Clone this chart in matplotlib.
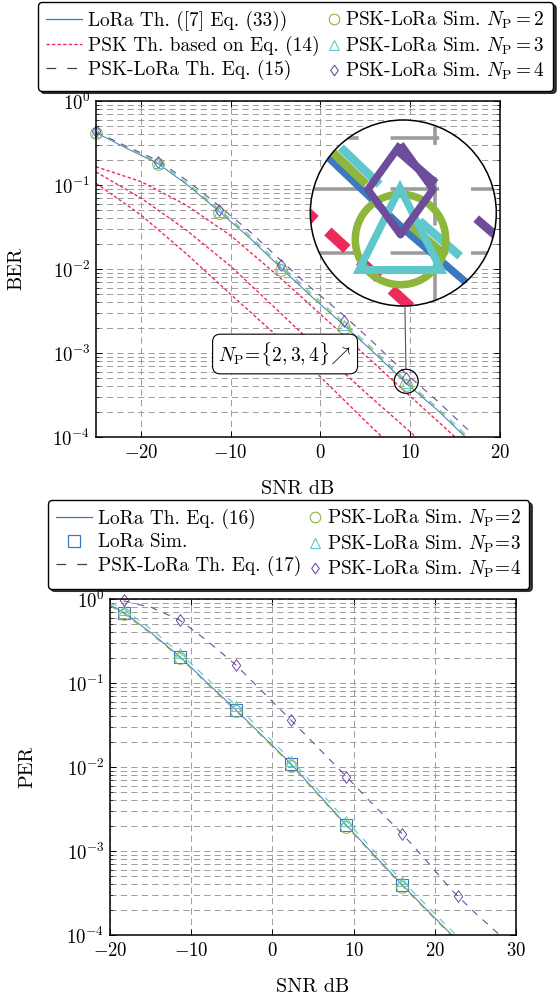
import numpy as np
import matplotlib
matplotlib.use('Agg')
import matplotlib.pyplot as plt
from matplotlib.lines import Line2D
from matplotlib.patches import Circle
from matplotlib.legend_handler import HandlerLine2D
from matplotlib.transforms import IdentityTransform
from matplotlib.ticker import LogLocator, MultipleLocator, NullFormatter

plt.rcParams['font.family'] = 'serif'
plt.rcParams['font.serif'] = ['cmr10']
plt.rcParams['mathtext.fontset'] = 'cm'
plt.rcParams['axes.formatter.use_mathtext'] = True
plt.rcParams['lines.scale_dashes'] = False

BLUE = '#3a78c2'
RED = '#ec2a5c'
GREEN = '#8cb63c'
CYAN = '#5ec8cc'
PURPLE = '#6e4c9c'
GRID = '#9c9c9c'
DIAMOND = [(0, 1), (0.72, 0), (0, -1), (-0.72, 0), (0, 1)]

# ---- BER (top) ----
ber_th_snr = [-25, -21.5, -18.1, -14.7, -11.25, -7.8, -4.4, -1.0, 2.6, 6.0, 9.5, 13.0, 16.5]
ber_lora_th = [0.42, 0.27, 0.18, 0.098, 0.048, 0.023, 0.0103, 0.0047, 0.00215, 0.001, 0.00044, 0.00021, 0.000092]
ber_pl_th_np2 = [0.42, 0.272, 0.182, 0.1, 0.049, 0.0235, 0.0106, 0.0048, 0.0022, 0.00103, 0.000455, 0.000215, 0.000094]
ber_pl_th_np3 = [0.425, 0.278, 0.187, 0.103, 0.051, 0.0247, 0.0111, 0.0051, 0.00233, 0.00108, 0.000475, 0.000225, 0.000099]
ber_pl_th_np4 = [0.43, 0.285, 0.195, 0.11, 0.056, 0.0275, 0.0126, 0.0059, 0.0028, 0.0013, 0.00057, 0.00027, 0.00012]

psk_th_snr = [-25, -20, -15, -10, -5, 0, 5, 10, 15, 20]
ber_psk_th_np2 = [0.105, 0.044, 0.0154, 0.0050, 0.00165, 0.00052, 0.000155, 0.000048, 0.000015, 0.0000047]
ber_psk_th_np3 = [0.143, 0.070, 0.0294, 0.0108, 0.0034, 0.00106, 0.00034, 0.000115, 0.000037, 0.000012]
ber_psk_th_np4 = [0.165, 0.11, 0.058, 0.025, 0.0088, 0.0029, 0.00094, 0.000305, 0.0001, 0.000032]

ber_sim_snr = [-25, -18.1, -11.25, -4.4, 2.6, 9.5]
ber_sim_np2 = [0.42, 0.176, 0.046, 0.0098, 0.0020, 0.00042]
ber_sim_np3 = [0.43, 0.181, 0.048, 0.0102, 0.00215, 0.000435]
ber_sim_np4 = [0.44, 0.19, 0.051, 0.0112, 0.0024, 0.00050]

# ---- PER (bottom) ----
per_th_snr = [-20, -18.3, -14.85, -11.4, -8.0, -4.5, -1.1, 2.3, 5.7, 9.1, 12.5, 16.0, 19.0, 22.1, 25.0, 28.0, 30.0]
per_lora_th = [0.85, 0.69, 0.39, 0.206, 0.10, 0.048, 0.0229, 0.0109, 0.0047, 0.00204, 0.0009, 0.000394, 0.0002, 0.0001, 0.000052, 0.000026, 0.000017]
per_pl_th_np2 = [0.83, 0.67, 0.378, 0.2, 0.097, 0.0466, 0.0222, 0.0106, 0.00456, 0.00198, 0.00087, 0.000382, 0.000194, 0.000097, 0.00005, 0.000025, 0.000016]
per_pl_th_np3 = [0.9, 0.75, 0.43, 0.228, 0.112, 0.054, 0.0257, 0.0122, 0.00527, 0.00229, 0.00101, 0.000441, 0.000224, 0.000112, 0.000058, 0.000029, 0.000019]
per_pl_th_np4 = [1.02, 0.95, 0.79, 0.56, 0.316, 0.164, 0.0768, 0.036, 0.0167, 0.0077, 0.0035, 0.0016, 0.00076, 0.00034, 0.000182, 0.0001, 0.000065]

per_sim_snr = [-18.3, -11.4, -4.5, 2.3, 9.1, 16.0]
per_sim_lora = [0.69, 0.206, 0.048, 0.0109, 0.00204, 0.000394]
per_sim_np2 = [0.67, 0.20, 0.046, 0.0103, 0.00192, 0.00037]
per_sim_np3 = [0.74, 0.225, 0.053, 0.0118, 0.0023, 0.00044]
per_sim_snr_np4 = [-18.3, -11.4, -4.5, 2.3, 9.1, 16.0, 22.8]
per_sim_np4 = [0.97, 0.56, 0.164, 0.036, 0.0077, 0.0016, 0.000295]

spy_center = (9.55, 4.6e-4)

FS_LEG = 13.9


class MarkerRight(HandlerLine2D):
    # marker sits right before the label (pgfplots style); the line part is invisible anyway
    def get_xdata(self, legend, xdescent, ydescent, width, height, fontsize):
        xm = -xdescent + width - 0.3 * fontsize
        return np.array([xm - 0.5, xm + 0.5]), np.array([xm])


def style_axes(ax, xlim, xticks):
    ax.set_yscale('log')
    ax.set_xlim(*xlim)
    ax.set_ylim(1e-4, 1)
    ax.set_xticks(xticks)
    ax.yaxis.set_major_locator(LogLocator(base=10, numticks=10))
    ax.yaxis.set_minor_locator(LogLocator(base=10, subs=np.arange(2, 10), numticks=20))
    ax.yaxis.set_minor_formatter(NullFormatter())
    ax.grid(True, which='major', axis='x', color=GRID, lw=0.7, ls=(0, (4.5, 3)))
    ax.grid(True, which='both', axis='y', color=GRID, lw=0.7, ls=(0, (4.5, 3)))
    ax.set_axisbelow(True)
    ax.tick_params(which='both', direction='in', top=True, right=True, labelsize=13.5)
    ax.tick_params(axis='x', pad=5)
    ax.tick_params(axis='y', pad=4)
    ax.tick_params(which='major', length=4, width=0.7)
    ax.tick_params(which='minor', length=2, width=0.5)
    for s in ax.spines.values():
        s.set_linewidth(1.1)
    ax.set_xlabel('SNR dB', fontsize=14.5)
    ax.xaxis.set_label_coords(0.5, -0.128)


def draw_ber(ax, k, clip_on):
    arts = []
    arts += ax.plot(ber_th_snr, ber_lora_th, color=BLUE, lw=0.7 * k)
    for r in (ber_psk_th_np2, ber_psk_th_np3, ber_psk_th_np4):
        arts += ax.plot(psk_th_snr, r, color=RED, lw=1.0 * k, ls=(0, (2.4 * k, 1.6 * k)))
    for c, y in ((GREEN, ber_pl_th_np2), (CYAN, ber_pl_th_np3), (PURPLE, ber_pl_th_np4)):
        arts += ax.plot(ber_th_snr, y, color=c, lw=0.8 * k, ls=(0, (5 * k, 5 * k)))
    arts += ax.plot(ber_sim_snr, ber_sim_np2, ls='none', marker='o', ms=8.4 * k, mfc='none',
                    mec=GREEN, mew=0.7 * k, clip_on=clip_on)
    arts += ax.plot(ber_sim_snr, ber_sim_np3, ls='none', marker='^', ms=7.6 * k, mfc='none',
                    mec=CYAN, mew=0.7 * k, clip_on=clip_on)
    arts += ax.plot(ber_sim_snr, ber_sim_np4, ls='none', marker=DIAMOND, ms=8.4 * k, mfc='none',
                    mec=PURPLE, mew=0.7 * k, clip_on=clip_on)
    return arts


def add_legend(handles, labels, anchor):
    leg = fig.legend(handles, labels, ncol=2, loc='upper left', bbox_to_anchor=anchor,
                     fontsize=FS_LEG, handlelength=1.85, handletextpad=0.3, columnspacing=-0.8,
                     labelspacing=0.22, borderpad=0.42, borderaxespad=0, fancybox=True,
                     shadow={'color': 'black', 'alpha': 0.75}, edgecolor='black', framealpha=1,
                     handler_map={h: MarkerRight() for h in handles[3:]})
    leg.get_frame().set_linewidth(1.0)
    return leg


fig = plt.figure(figsize=(5.6, 9.94), dpi=100)

# ---------------- top: BER ----------------
ax1 = fig.add_axes([96 / 560, 1 - 437 / 994, 404 / 560, 336 / 994])
draw_ber(ax1, 1, False)
style_axes(ax1, (-25, 20), [-20, -10, 0, 10, 20])
ax1.set_ylabel('BER', fontsize=14.5)
ax1.yaxis.set_label_coords(-0.176, 0.5)

ax1.text(0.468, 0.247, r'$N_{\mathrm{P}}\!=\!\{2,3,4\}\!\nearrow$', transform=ax1.transAxes,
         ha='center', va='center', fontsize=14, zorder=6,
         bbox=dict(boxstyle='round,pad=0.3,rounding_size=0.4', fc='white', ec='black', lw=0.8))

# spy glass
small_r, big_r = 12, 93
big_c = np.array([403.3, 994 - 213])
c_px = ax1.transData.transform(spy_center)
lo = ax1.transData.inverted().transform(c_px - small_r)
hi = ax1.transData.inverted().transform(c_px + small_r)
mag = big_r / small_r

fig.add_artist(Circle(c_px, small_r, transform=IdentityTransform(), fc='none', ec='black', lw=0.9, zorder=5))
d = c_px - big_c
u = d / np.hypot(*d)
p0 = big_c + u * big_r
p1 = c_px - u * small_r
fig.add_artist(Line2D([p0[0], p1[0]], [p0[1], p1[1]], transform=IdentityTransform(), color='#555555', lw=0.8))

axins = fig.add_axes([(big_c[0] - big_r) / 560, (big_c[1] - big_r) / 994, 2 * big_r / 560, 2 * big_r / 994])
axins.set_yscale('log')
axins.set_axis_off()
clip_circ = Circle((0.5, 0.5), 0.5, transform=axins.transAxes)
axins.add_patch(Circle((0.5, 0.5), 0.5, transform=axins.transAxes, fc='white', ec='none', zorder=0))
arts = []
for v in MultipleLocator(10).tick_values(lo[0], hi[0]):
    arts.append(axins.axvline(v, color=GRID, lw=2.6, ls=(0, (35, 23)), zorder=1))
for v in LogLocator(base=10, subs=np.arange(1, 10)).tick_values(lo[1], hi[1]):
    arts.append(axins.axhline(v, color=GRID, lw=2.6, ls=(0, (35, 23)), zorder=1))
arts += draw_ber(axins, mag, True)
for a in arts:
    a.set_clip_path(clip_circ)
axins.set_xlim(lo[0], hi[0])
axins.set_ylim(lo[1], hi[1])
axins.add_patch(Circle((0.5, 0.5), 0.5, transform=axins.transAxes, fc='none', ec='black',
                       lw=1.1, zorder=10, clip_on=False))

h_top = [
    Line2D([], [], color=BLUE, lw=0.9),
    Line2D([], [], color=RED, lw=1.0, ls=(0, (2.4, 1.6))),
    Line2D([], [], color='#404040', lw=0.9, ls=(0, (7, 8))),
    Line2D([], [], ls='none', marker='o', ms=7.6, mfc='none', mec=GREEN, mew=0.8),
    Line2D([], [], ls='none', marker='^', ms=7.0, mfc='none', mec=CYAN, mew=0.8),
    Line2D([], [], ls='none', marker=DIAMOND, ms=7.6, mfc='none', mec=PURPLE, mew=0.8),
]
l_top = ['LoRa Th. ([7] Eq. (33))', 'PSK Th. based on Eq. (14)', 'PSK-LoRa Th. Eq. (15)',
         r'PSK-LoRa Sim. $N_{\mathrm{P}}=2$', r'PSK-LoRa Sim. $N_{\mathrm{P}}=3$',
         r'PSK-LoRa Sim. $N_{\mathrm{P}}=4$']
add_legend(h_top, l_top, (38 / 560, 1 - 2 / 994))

# ---------------- bottom: PER ----------------
ax2 = fig.add_axes([110 / 560, 1 - 935 / 994, 406 / 560, 336 / 994])
ax2.plot(per_th_snr, per_lora_th, color=BLUE, lw=0.7)
for c, y in ((GREEN, per_pl_th_np2), (CYAN, per_pl_th_np3), (PURPLE, per_pl_th_np4)):
    ax2.plot(per_th_snr, y, color=c, lw=0.8, ls=(0, (5, 5)))
ax2.plot(per_sim_snr, per_sim_lora, ls='none', marker='s', ms=8.8, mfc='none', mec=BLUE, mew=0.8, clip_on=False)
ax2.plot(per_sim_snr, per_sim_np2, ls='none', marker='o', ms=8.4, mfc='none', mec=GREEN, mew=0.7, clip_on=False)
ax2.plot(per_sim_snr, per_sim_np3, ls='none', marker='^', ms=7.6, mfc='none', mec=CYAN, mew=0.7, clip_on=False)
ax2.plot(per_sim_snr_np4, per_sim_np4, ls='none', marker=DIAMOND, ms=8.4, mfc='none', mec=PURPLE, mew=0.7,
         clip_on=False)
style_axes(ax2, (-20, 30), [-20, -10, 0, 10, 20, 30])
ax2.set_ylabel('PER', fontsize=14.5)
ax2.yaxis.set_label_coords(-0.182, 0.5)

h_bot = [
    Line2D([], [], color=BLUE, lw=0.9),
    Line2D([], [], ls='none', marker='s', ms=8.0, mfc='none', mec=BLUE, mew=0.9),
    Line2D([], [], color='#404040', lw=0.9, ls=(0, (7, 8))),
    Line2D([], [], ls='none', marker='o', ms=7.6, mfc='none', mec=GREEN, mew=0.8),
    Line2D([], [], ls='none', marker='^', ms=7.0, mfc='none', mec=CYAN, mew=0.8),
    Line2D([], [], ls='none', marker=DIAMOND, ms=7.6, mfc='none', mec=PURPLE, mew=0.8),
]
l_bot = ['LoRa Th. Eq. (16)', 'LoRa Sim.', 'PSK-LoRa Th. Eq. (17)',
         r'PSK-LoRa Sim. $N_{\mathrm{P}}\!=\!2$', r'PSK-LoRa Sim. $N_{\mathrm{P}}\!=\!3$',
         r'PSK-LoRa Sim. $N_{\mathrm{P}}\!=\!4$']
add_legend(h_bot, l_bot, (48 / 560, 1 - 500 / 994))

fig.savefig('out.png', dpi=100)
